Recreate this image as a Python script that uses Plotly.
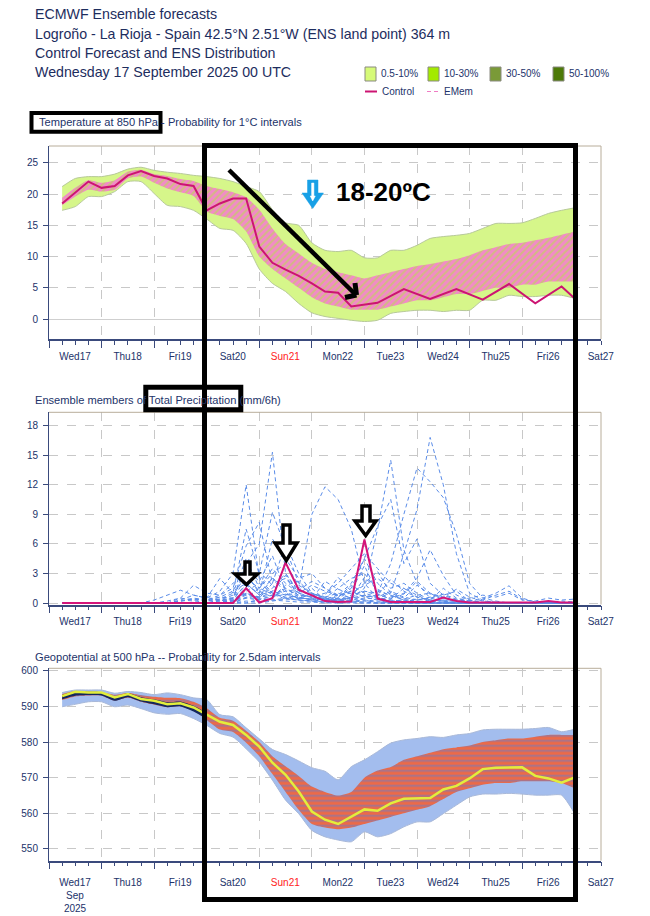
import plotly.graph_objects as go

W, H = 650, 916


def PX(x):
    return x / W


def PY(y):
    return 1 - y / H


FONT = "Liberation Sans, Arial, sans-serif"
TXT = "#22336a"
AX = "#3a4a7c"
GRID = "#c8c8c8"

# ---------------- data ----------------
hours = [6, 12, 18, 24, 30, 36, 42, 48, 54, 60, 66, 72, 78, 84, 90, 96, 102, 108, 114, 120,
         126, 132, 138, 144, 150, 156, 162, 168, 174, 180, 186, 192, 198, 204, 210, 216, 222, 228, 234, 240]

day_ticks = [0, 24, 48, 72, 96, 120, 144, 168, 192, 216, 240]
day_labels = ["Wed17", "Thu18", "Fri19", "Sat20", "Sun21", "Mon22", "Tue23", "Wed24", "Thu25", "Fri26", "Sat27"]

# Temperature 850 hPa
t_ctl_hours = [6, 12, 18, 24, 30, 36, 42, 48, 54, 60, 66, 72, 78, 84, 90, 96, 102, 108, 114, 120,
               126, 132, 138, 150, 162, 174, 186, 198, 210, 222, 234, 240]
t_ctl = [18.5, 20.2, 22.0, 21.0, 21.3, 23.0, 23.7, 22.9, 22.5, 21.6, 21.3, 17.4, 18.5, 19.3, 19.3, 11.6,
         9.0, 7.9, 6.9, 5.7, 4.4, 4.2, 2.0, 2.6, 4.8, 3.2, 4.8, 3.1, 5.6, 2.5, 5.2, 3.3]
t_env_hi = [21.2, 22.5, 22.8, 22.8, 23.2, 24.0, 24.3, 23.8, 23.5, 23.3,
            23.0, 22.8, 22.5, 22.0, 21.2, 20.4, 17.5, 15.4, 15.0, 12.2,
            11.0, 10.8, 11.0, 9.8, 9.8, 11.0, 11.0, 11.8, 12.9, 13.2,
            13.4, 13.7, 14.5, 15.3, 15.3, 15.4, 16.1, 16.9, 17.4, 17.8]
t_env_lo = [17.4, 18.0, 19.6, 19.6, 20.4, 22.0, 22.0, 20.1, 18.2, 18.0,
            17.4, 16.0, 14.5, 14.2, 12.1, 8.0, 5.7, 4.4, 2.5, 1.0,
            0.4, 0.1, -0.2, -0.4, -0.2, 0.9, 1.2, 1.4, 1.4, 1.2,
            1.4, 1.4, 3.0, 3.0, 3.8, 3.6, 3.6, 3.8, 3.8, 3.3]
t_core_hi = [19.4, 21.0, 22.2, 21.8, 22.2, 23.6, 23.9, 23.2, 22.9, 22.4,
             22.1, 21.3, 20.8, 20.3, 19.5, 17.5, 14.5, 12.0, 10.5, 9.0,
             8.0, 7.5, 7.0, 6.5, 7.0, 7.5, 8.0, 8.5, 8.8, 9.2,
             9.6, 10.2, 11.0, 11.5, 12.0, 12.2, 12.6, 13.0, 13.5, 14.0]
t_core_lo = [18.2, 19.6, 20.7, 20.4, 20.7, 22.5, 22.8, 21.8, 20.9, 20.3,
             19.7, 17.2, 16.5, 16.0, 14.0, 10.0, 8.0, 6.5, 5.0, 3.5,
             2.5, 2.0, 1.5, 1.5, 1.5, 2.0, 2.5, 3.0, 3.0, 3.5,
             4.0, 4.0, 4.5, 5.0, 5.0, 5.5, 5.5, 6.0, 6.0, 6.0]

# Precipitation (mm/6h)
p_ctl = [0, 0, 0, 0, 0, 0, 0, 0, 0, 0.05,
         0.05, 0, 0, 0, 1.5, 0.05, 0.5, 4.1, 1.35, 0.75,
         0.2, 0.1, 0.15, 6.45, 0.45, 0.1, 0.1, 0.1, 0.1, 0.55,
         0.2, 0.05, 0.05, 0.1, 0.1, 0.05, 0.05, 0.2, 0.05, 0.05]
p_m01 = [0, 0, 0, 0, 0, 0, 0, 0, 0, 0.3, 0.8, 0.5, 1.2, 3.0, 12.0, 2.5, 1.0, 0.5, 0.3, 0.2,
         0.1, 0, 0, 0, 0, 0, 0, 0, 0, 0, 0, 0, 0, 0, 0, 0, 0, 0, 0, 0]
p_m02 = [0, 0, 0, 0, 0, 0, 0, 0, 0, 0.2, 0.4, 0.3, 0.6, 0.5, 4.0, 6.0, 15.3, 3.0, 1.0, 0.5,
         0.3, 0.2, 0.1, 0, 0, 0, 0, 0, 0, 0, 0, 0, 0, 0, 0, 0, 0, 0, 0, 0]
p_m03 = [0, 0, 0, 0, 0, 0, 0, 0, 0.2, 0.5, 0.3, 0.2, 0.4, 1.0, 7.5, 3.0, 9.2, 5.5, 2.0, 0.8,
         0.4, 0.3, 0.6, 0.3, 0, 0, 0, 0, 0, 0, 0, 0, 0, 0, 0, 0, 0, 0, 0, 0]
p_m04 = [0, 0, 0, 0, 0, 0, 0, 0, 0, 0, 0, 0, 0.2, 0.4, 1.0, 0.6, 0.8, 1.2, 1.4, 9.0,
         11.8, 10.5, 7.5, 2.0, 0.5, 0.2, 0, 0, 0, 0, 0, 0, 0, 0, 0, 0, 0, 0, 0, 0]
p_m05 = [0, 0, 0, 0, 0, 0, 0, 0, 0, 0.2, 0.5, 0.3, 0.8, 1.5, 5.8, 8.2, 2.0, 6.0, 3.0, 1.0,
         0.5, 0.3, 0.2, 0.1, 0, 0, 0, 0, 0, 0, 0, 0, 0, 0, 0, 0, 0, 0, 0, 0]
p_m06 = [0, 0, 0, 0, 0, 0, 0, 0.3, 0.8, 1.3, 0.8, 0.5, 2.5, 1.0, 4.5, 1.5, 3.5, 2.0, 1.0, 0.6,
         0.4, 0.8, 1.2, 0.6, 0.3, 0, 0, 0, 0, 0, 0, 0, 0, 0, 0, 0, 0, 0, 0, 0]
p_m07 = [0, 0, 0, 0, 0, 0, 0, 0, 0, 0.5, 1.8, 1.0, 0.8, 2.0, 3.0, 1.0, 6.5, 4.5, 2.5, 3.0,
         1.5, 0.8, 2.0, 4.5, 2.0, 0.8, 0.3, 0, 0, 0, 0, 0, 0, 0, 0, 0, 0, 0, 0, 0]
p_m08 = [0, 0, 0, 0, 0, 0, 0, 0, 0, 0, 0, 0, 0, 0.2, 0.8, 0.5, 1.2, 0.8, 0.5, 0.4,
         0.3, 0.3, 0.5, 1.5, 7.5, 14.5, 5.4, 2.0, 0.5, 0.2, 0.1, 0, 0, 0, 0, 0, 0, 0, 0, 0]
p_m09 = [0, 0, 0, 0, 0, 0, 0, 0, 0, 0, 0, 0, 0, 0, 0.5, 0.3, 0.8, 1.5, 0.6, 0.3,
         0.2, 0.5, 0.3, 0.8, 0.5, 1.0, 5.0, 9.5, 16.8, 12.0, 5.0, 1.0, 0.3, 0, 0, 0, 0, 0, 0, 0]
p_m10 = [0, 0, 0, 0, 0, 0, 0, 0, 0, 0, 0, 0, 0, 0, 1.2, 2.0, 1.0, 0.6, 0.4, 1.0,
         0.6, 0.4, 0.8, 1.2, 1.0, 4.0, 9.0, 13.7, 12.3, 10.7, 7.0, 2.0, 0.5, 0.2, 0, 0, 0, 0, 0, 0]
p_m11 = [0, 0, 0, 0, 0, 0, 0, 0, 0, 0, 0, 0, 0, 0.3, 2.0, 0.8, 1.5, 3.0, 1.2, 0.8,
         0.4, 0.6, 1.5, 4.5, 7.8, 10.5, 4.0, 6.5, 2.0, 0.8, 0.3, 0, 0, 0, 0, 0, 0, 0, 0, 0]
p_m12 = [0, 0, 0, 0, 0, 0, 0, 0, 0, 0, 0, 0, 0, 0, 0, 0.4, 0.6, 0.9, 0.5, 0.4,
         0.3, 0.2, 0.5, 0.8, 0.5, 0.4, 1.0, 2.5, 5.4, 2.8, 0.8, 0.3, 0, 0, 0, 0, 0, 0, 0, 0]
p_m13 = [0, 0, 0, 0, 0, 0, 0, 0, 0, 0, 0, 0, 0, 0, 0.6, 0.4, 0.3, 0.5, 0.3, 0.2,
         0.1, 0.2, 0.3, 0.5, 0.4, 0.3, 0.2, 0.3, 0.5, 0.8, 1.2, 0.2, 0.5, 1.0, 1.75, 0.5, 0.1, 0, 0, 0]
p_m14 = [0, 0, 0, 0, 0, 0, 0, 0, 0, 0, 0, 0, 0.3, 0.5, 1.8, 1.0, 2.5, 1.5, 0.8, 0.6,
         1.0, 2.0, 3.5, 5.0, 3.5, 2.0, 1.5, 0.6, 0.3, 0.2, 0, 0, 0, 0, 0, 0, 0, 0, 0, 0]
p_m15 = [0, 0, 0, 0, 0, 0, 0, 0, 0, 0, 0, 0, 0, 0.5, 2.5, 1.5, 3.0, 4.0, 1.8, 1.0,
         0.5, 1.5, 2.5, 3.0, 1.2, 0.8, 0.3, 0.2, 0.1, 0, 0, 0, 0, 0, 0, 0, 0, 0, 0, 0]
p_m16 = [0, 0, 0, 0, 0, 0, 0, 0, 0, 0, 0, 0, 0, 0, 1.0, 0.5, 2.0, 2.5, 1.0, 1.8,
         1.2, 0.8, 1.0, 1.8, 2.5, 1.5, 2.0, 1.0, 0.3, 1.5, 0.5, 0.2, 0, 0, 0, 0, 0, 0, 0, 0]
p_m17 = [0, 0, 0, 0, 0, 0, 0, 0, 0, 0, 0, 0, 0, 0, 0, 0, 0.2, 0.4, 0.3, 0.2,
         0.1, 0.1, 0.2, 0.3, 0.2, 0.2, 0.3, 0.4, 0.2, 0.3, 0.3, 0.5, 0.8, 0.6, 1.0, 0.3, 0.2, 0.5, 0.3, 0.4]
p_m18 = [0, 0, 0, 0, 0, 0, 0, 0, 0, 0, 0, 0, 0, 0, 0.2, 0.1, 0.3, 0.2, 0.1, 0.1,
         0, 0, 0.1, 0.2, 0.1, 0, 0, 0, 0, 0, 0, 0, 0.3, 0.8, 1.2, 0.4, 0.1, 0.1, 0.2, 0.1]
p_m19 = [0, 0, 0, 0, 0, 0, 0, 0, 0, 0, 0, 0, 0.3, 0.8, 2.8, 1.2, 0.6, 1.8, 2.2, 0.9,
         0.6, 1.0, 0.5, 2.6, 1.4, 0.7, 0.4, 0.8, 1.0, 0.3, 0.2, 0.1, 0, 0, 0, 0, 0, 0, 0, 0]
p_m20 = [0, 0, 0, 0, 0, 0, 0, 0, 0, 0, 0.1, 0.2, 0.4, 0.2, 1.6, 3.2, 1.8, 0.8, 1.3, 2.2,
         1.5, 0.6, 1.8, 1.0, 0.6, 1.2, 0.6, 0.3, 0.6, 0.9, 0.4, 0.1, 0, 0, 0, 0, 0, 0, 0, 0]
p_m21 = [0, 0, 0, 0, 0, 0, 0, 0, 0, 0, 0, 0, 0.1, 0.2, 0.9, 0.6, 2.6, 1.0, 0.5, 0.4,
         2.2, 1.4, 0.9, 2.0, 3.2, 1.0, 0.5, 1.8, 0.9, 0.5, 0.2, 0.3, 0.1, 0, 0, 0, 0, 0, 0, 0]
p_m22 = [0, 0, 0, 0, 0, 0, 0, 0, 0, 0, 0, 0.2, 0.6, 1.2, 2.0, 0.8, 1.2, 2.8, 0.6, 0.3,
         0.8, 2.6, 1.2, 0.6, 0.8, 2.4, 1.2, 0.6, 0.3, 0.2, 0, 0, 0, 0, 0, 0, 0, 0, 0, 0]
p_m23 = [0, 0, 0, 0, 0, 0, 0, 0, 0, 0.2, 0.3, 0.6, 0.2, 0.5, 3.5, 2.2, 4.8, 1.2, 0.4, 1.5,
         0.3, 0.5, 1.2, 3.8, 0.9, 0.4, 1.5, 0.8, 0.2, 0.1, 0, 0, 0, 0, 0, 0, 0, 0, 0, 0]
p_m24 = [0, 0, 0, 0, 0, 0, 0, 0, 0, 0, 0, 0, 0, 0.3, 0.5, 1.5, 0.9, 0.4, 0.8, 0.6,
         0.4, 0.3, 0.6, 1.2, 0.8, 0.5, 0.9, 2.2, 1.0, 0.6, 1.4, 0.6, 0.2, 0.1, 0, 0, 0, 0, 0, 0]
p_members = [p_m01, p_m02, p_m03, p_m04, p_m05, p_m06, p_m07, p_m08, p_m09, p_m10, p_m11, p_m12,
             p_m13, p_m14, p_m15, p_m16, p_m17, p_m18, p_m19, p_m20, p_m21, p_m22, p_m23, p_m24]

# Geopotential 500 hPa (dam)
g_ctl = [592.9, 594.1, 593.9, 593.9, 592.5, 593.5, 592.1, 591.6, 590.6, 590.9,
         589.7, 587.6, 585.7, 584.8, 582.0, 578.7, 574.2, 570.8, 566.1, 560.5,
         558.2, 557.0, 559.0, 561.1, 560.7, 562.8, 564.1, 564.3, 564.3, 566.7,
         567.7, 569.8, 572.4, 572.8, 572.9, 572.9, 570.5, 569.8, 568.6, 570.1]
g_env_hi = [593.9, 594.6, 594.6, 594.6, 593.7, 594.2, 593.9, 593.3, 593.8, 593.3,
            592.4, 591.9, 587.7, 587.1, 584.0, 580.9, 577.9, 576.5, 574.7, 572.8,
            571.8, 569.4, 573.1, 575.0, 577.3, 579.7, 580.6, 581.0, 581.5, 581.3,
            582.0, 582.4, 583.4, 583.6, 583.6, 583.6, 583.8, 584.1, 582.9, 583.6]
g_env_lo = [589.9, 590.6, 591.3, 591.3, 589.9, 590.4, 589.4, 588.2, 587.8, 588.0,
            586.6, 584.7, 582.4, 581.4, 578.1, 574.4, 569.3, 563.7, 559.9, 555.2,
            553.4, 552.5, 552.0, 554.8, 553.4, 554.3, 556.2, 557.6, 557.6, 559.9,
            562.3, 564.6, 565.4, 565.4, 565.6, 565.4, 565.1, 565.1, 565.1, 559.9]
g_core_hi = [593.5, 594.3, 594.2, 594.0, 593.3, 593.8, 593.2, 592.7, 592.4, 592.3,
             591.3, 589.5, 586.8, 586.0, 583.2, 580.0, 576.0, 573.2, 570.5, 567.5,
             566.0, 565.0, 566.0, 570.0, 572.0, 573.0, 575.0, 576.0, 577.0, 578.0,
             578.5, 579.0, 580.0, 580.5, 581.0, 581.0, 581.5, 582.0, 582.0, 582.0]
g_core_lo = [591.8, 592.8, 593.0, 593.0, 591.6, 592.5, 591.3, 590.5, 589.8, 590.0,
             588.8, 586.2, 583.5, 582.8, 579.8, 576.0, 571.0, 566.0, 561.0, 557.0,
             556.0, 555.5, 556.0, 557.0, 558.0, 559.0, 560.0, 561.0, 562.0, 564.0,
             566.0, 567.0, 568.0, 568.5, 568.5, 569.0, 569.0, 569.0, 568.5, 567.0]
g_navy_hours = [6, 12, 18, 24, 30, 36, 42, 48, 54, 60, 66, 72]
g_navy_hi = [593.2, 594.2, 594.1, 594.0, 592.9, 593.7, 592.6, 592.0, 591.2, 591.4, 590.2, 588.2]
g_navy_lo = [592.0, 593.0, 593.2, 593.1, 591.6, 592.6, 591.4, 590.6, 589.8, 590.0, 588.6, 586.5]

legend_labels = ["0.5-10%", "10-30%", "30-50%", "50-100%"]
legend_colors = ["#d6fa78", "#a3ea00", "#7a9a38", "#4d7a08"]

# ---------------- figure ----------------
fig = go.Figure()


def band(x, lo, hi, xa, ya, fillcolor=None, edge="rgba(0,0,0,0)", ew=0, pattern=None, smooth=True):
    shape = "spline" if smooth else "linear"
    fig.add_trace(go.Scatter(x=x, y=lo, mode="lines", line=dict(color=edge, width=ew, shape=shape, smoothing=0.6),
                             hoverinfo="skip", showlegend=False, xaxis=xa, yaxis=ya))
    kw = dict(x=x, y=hi, mode="lines", fill="tonexty",
              line=dict(color=edge, width=ew, shape=shape, smoothing=0.6),
              hoverinfo="skip", showlegend=False, xaxis=xa, yaxis=ya)
    if fillcolor:
        kw["fillcolor"] = fillcolor
    if pattern:
        kw["fillpattern"] = pattern
    fig.add_trace(go.Scatter(**kw))


# Temperature panel
band(hours, t_env_lo, t_env_hi, "x", "y", fillcolor="#d6f68a", edge="#b7c99a", ew=1)
band(hours, t_core_lo, t_core_hi, "x", "y", fillcolor="#f28ac8",
     pattern=dict(shape="/", fgcolor="#b0ea3a", bgcolor="#f28ac8", size=5, solidity=0.4))
fig.add_trace(go.Scatter(x=t_ctl_hours, y=t_ctl, mode="lines", line=dict(color="#cc1472", width=2),
                         name="Control", showlegend=False, xaxis="x", yaxis="y"))

# Precipitation panel
for m in p_members:
    fig.add_trace(go.Scatter(x=hours, y=m, mode="lines", line=dict(color="#5a8ce8", width=1, dash="4px,3px"),
                             hoverinfo="skip", showlegend=False, xaxis="x2", yaxis="y2"))
fig.add_trace(go.Scatter(x=hours, y=p_ctl, mode="lines", line=dict(color="#d4147a", width=2),
                         showlegend=False, xaxis="x2", yaxis="y2"))

# Geopotential panel
band(hours, g_env_lo, g_env_hi, "x3", "y3", fillcolor="#a3bdee", edge="#a8b8d8", ew=1)
band(hours, g_core_lo, g_core_hi, "x3", "y3", fillcolor="#ec6a48",
     pattern=dict(shape="-", fgcolor="#4f7fe2", bgcolor="#ec6a48", size=5, solidity=0.35))
band(g_navy_hours, g_navy_lo, g_navy_hi, "x3", "y3", fillcolor="#13275f")
fig.add_trace(go.Scatter(x=hours, y=g_ctl, mode="lines", line=dict(color="#e2ee3c", width=2.5),
                         showlegend=False, xaxis="x3", yaxis="y3"))


# ---------------- axes ----------------
def xaxis(anchor, labels, standoff=0):
    return dict(anchor=anchor, domain=[PX(49), PX(601)], range=[0, 252],
                tickmode="array", tickvals=day_ticks, ticktext=labels, ticklabelshift=26,
                ticklabelstandoff=standoff,
                ticks="outside", ticklen=7, tickwidth=1, tickcolor=AX,
                showline=True, linecolor=AX, linewidth=1.5,
                showgrid=True, gridcolor=GRID, griddash="dash", gridwidth=1, zeroline=False,
                minor=dict(dtick=6, tick0=0, ticks="outside", ticklen=4, tickcolor=AX, showgrid=False),
                tickfont=dict(family=FONT, size=10, color=TXT), automargin=False, fixedrange=True)


def yaxis(anchor, top, bottom, rng, tv, zero=False):
    return dict(anchor=anchor, domain=[PY(bottom), PY(top)], range=rng, tickmode="array", tickvals=tv,
                ticks="outside", ticklen=5, tickcolor=AX, showline=True, linecolor=AX, linewidth=1,
                showgrid=True, gridcolor=GRID, griddash="dash", gridwidth=1,
                zeroline=zero, zerolinecolor="#cfcfcf", zerolinewidth=1,
                tickfont=dict(family=FONT, size=10, color=TXT), automargin=False, fixedrange=True,
                ticklabelstandoff=3)


red = '<span style="color:#ff2222">Sun21</span>'
lab1 = [l if l != "Sun21" else red for l in day_labels]
lab3 = list(lab1)
lab3[0] = "Wed17<br>Sep<br>2025"

fig.update_layout(
    width=W, height=H, margin=dict(l=0, r=0, t=0, b=0),
    paper_bgcolor="white", plot_bgcolor="white", showlegend=False,
    xaxis=xaxis("y", lab1),
    yaxis=yaxis("x", 146, 339, [-3.2, 27.7], [0, 5, 10, 15, 20, 25], zero=True),
    xaxis2=xaxis("y2", lab1),
    yaxis2=yaxis("x2", 412.3, 604.5, [-0.15, 19.35], [0, 3, 6, 9, 12, 15, 18]),
    xaxis3=xaxis("y3", lab3, standoff=5),
    yaxis3=yaxis("x3", 668.3, 860.7, [546.7, 600.7], [550, 560, 570, 580, 590, 600]),
)

shapes = []
annots = []

# frame top/right
for xa, ya in (("x", "y"), ("x2", "y2"), ("x3", "y3")):
    shapes.append(dict(type="line", xref=xa + " domain", yref=ya + " domain", x0=0, x1=1, y0=1, y1=1,
                       line=dict(color="#b8ad9a", width=1)))
    shapes.append(dict(type="line", xref=xa + " domain", yref=ya + " domain", x0=1, x1=1, y0=0, y1=1,
                       line=dict(color="#b8ad9a", width=1)))

# header
header = ["ECMWF Ensemble forecasts",
          "Logroño - La Rioja - Spain 42.5°N 2.51°W (ENS land point) 364 m",
          "Control Forecast and ENS Distribution",
          "Wednesday 17 September 2025 00 UTC"]
for i, t in enumerate(header):
    annots.append(dict(text=t, x=PX(33), y=PY(14 + 19.5 * i), xref="paper", yref="paper",
                       xanchor="left", yanchor="middle", showarrow=False,
                       font=dict(family=FONT, size=14.2, color="#1d2d5e")))

# legend
box_x = [365, 428, 490, 553]
for bx, lab, col in zip(box_x, legend_labels, legend_colors):
    shapes.append(dict(type="rect", xref="paper", yref="paper", x0=PX(bx), x1=PX(bx + 11),
                       y0=PY(81), y1=PY(67), fillcolor=col, line=dict(color="#8a8a80", width=1)))
    annots.append(dict(text=lab, x=PX(bx + 14), y=PY(73), xref="paper", yref="paper", xanchor="left",
                       yanchor="middle", showarrow=False, font=dict(family=FONT, size=10, color=TXT)))
shapes.append(dict(type="line", xref="paper", yref="paper", x0=PX(365), x1=PX(377), y0=PY(91.5), y1=PY(91.5),
                   line=dict(color="#cc1472", width=2)))
annots.append(dict(text="Control", x=PX(380), y=PY(91.5), xref="paper", yref="paper", xanchor="left",
                   yanchor="middle", showarrow=False, font=dict(family=FONT, size=10, color=TXT)))
shapes.append(dict(type="line", xref="paper", yref="paper", x0=PX(427), x1=PX(440), y0=PY(91.5), y1=PY(91.5),
                   line=dict(color="#f07cc4", width=1, dash="4px,3px")))
annots.append(dict(text="EMem", x=PX(442), y=PY(91.5), xref="paper", yref="paper", xanchor="left",
                   yanchor="middle", showarrow=False, font=dict(family=FONT, size=10, color=TXT)))

# panel titles
titles = [("Temperature at 850 hPa - Probability for 1°C intervals", 37, 122),
          ("Ensemble members of Total Precipitation (mm/6h)", 33, 400),
          ("Geopotential at 500 hPa -- Probability for 2.5dam intervals", 33, 657)]
for t, x, y in titles:
    annots.append(dict(text=t, x=PX(x), y=PY(y), xref="paper", yref="paper", xanchor="left",
                       yanchor="middle", showarrow=False, font=dict(family=FONT, size=11.1, color=TXT)))


# black highlight boxes
def rect(x0, y0, x1, y1, w):
    shapes.append(dict(type="rect", xref="paper", yref="paper", x0=PX(x0), x1=PX(x1), y0=PY(y1), y1=PY(y0),
                       line=dict(color="black", width=w), fillcolor="rgba(0,0,0,0)", layer="above"))


rect(204.5, 145.5, 575.5, 899.5, 5)
rect(31.5, 113.0, 160.5, 131.7, 4)
rect(145.8, 387.2, 240.8, 409.8, 5)


def seg(x0, y0, x1, y1, w, col="black"):
    shapes.append(dict(type="line", xref="paper", yref="paper", x0=PX(x0), y0=PY(y0), x1=PX(x1), y1=PY(y1),
                       line=dict(color=col, width=w), layer="above"))


# diagonal arrow
seg(229, 170, 355, 294, 4.5)
seg(345, 297.5, 356.5, 295, 5)
seg(356.5, 295, 355, 283, 5)


def path_arrow(sx0, sx1, top, hy, hx0, hx1, tx, ty, fill, line_col, lw):
    p = "M {a},{b} L {c},{b} L {c},{d} L {e},{d} L {f},{g} L {h},{d} L {a},{d} Z".format(
        a=PX(sx0), b=PY(top), c=PX(sx1), d=PY(hy), e=PX(hx1), f=PX(tx), g=PY(ty), h=PX(hx0))
    shapes.append(dict(type="path", xref="paper", yref="paper", path=p, fillcolor=fill,
                       line=dict(color=line_col, width=lw), layer="above"))


# blue arrow + text
path_arrow(307.5, 318, 180, 193, 302, 323.5, 312.7, 208.5, "#18a0e6", "#18a0e6", 0.5)
path_arrow(311.6, 313.9, 183, 196, 310.2, 315.3, 312.7, 201, "white", "white", 0.5)
annots.append(dict(text="<b>18-20ºC</b>", x=PX(334), y=PY(192), xref="paper", yref="paper", xanchor="left",
                   yanchor="middle", showarrow=False,
                   font=dict(family=FONT, size=26, color="black")))

# hollow black arrows in precipitation panel
path_arrow(245, 250, 562, 574, 235, 257.5, 246.5, 584.5, "white", "black", 3.5)
path_arrow(283, 290, 525, 543, 275, 297, 286.3, 560.5, "white", "black", 3.5)
path_arrow(362, 370, 506, 521, 355, 376, 365.7, 535.5, "white", "black", 3.5)

fig.update_layout(shapes=shapes, annotations=annots)
fig.write_html("out.html")
